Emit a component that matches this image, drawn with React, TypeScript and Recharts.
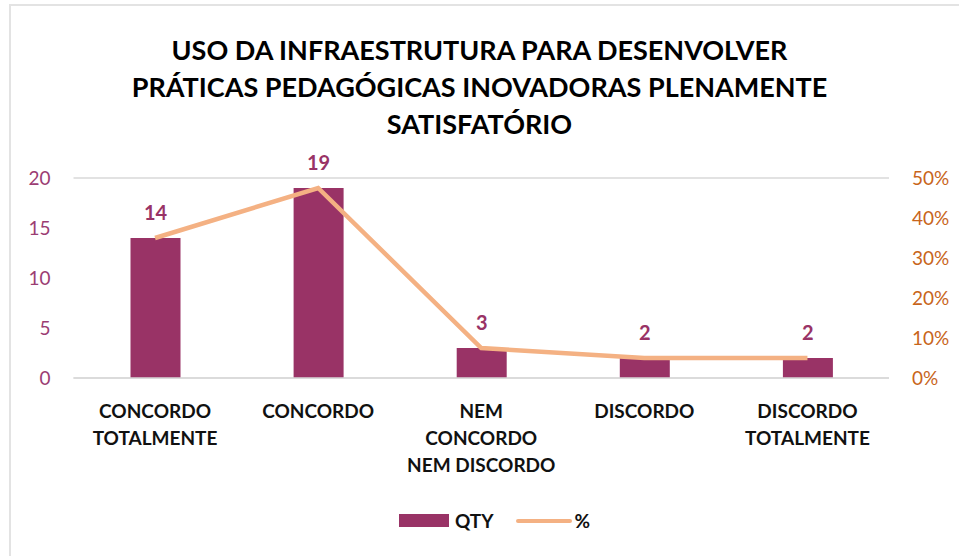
import React from "react";
import {
  ComposedChart,
  Bar,
  Line,
  XAxis,
  YAxis,
  CartesianGrid,
  LabelList,
} from "recharts";

const categories = ["CONCORDO TOTALMENTE", "CONCORDO", "NEM CONCORDO NEM DISCORDO", "DISCORDO", "DISCORDO TOTALMENTE"];
const qty = [14, 19, 3, 2, 2];
const pct = [35, 47.5, 7.5, 5, 5];
const qtyTicks = [0, 5, 10, 15, 20];
const pctTicks = [0, 10, 20, 30, 40, 50];
const titleLines = [
  "USO DA INFRAESTRUTURA PARA DESENVOLVER",
  "PRÁTICAS PEDAGÓGICAS INOVADORAS PLENAMENTE",
  "SATISFATÓRIO",
];

// how each category label wraps under the axis
const tickLines: Record<string, string[]> = {
  "CONCORDO TOTALMENTE": ["CONCORDO", "TOTALMENTE"],
  CONCORDO: ["CONCORDO"],
  "NEM CONCORDO NEM DISCORDO": ["NEM", "CONCORDO", "NEM DISCORDO"],
  DISCORDO: ["DISCORDO"],
  "DISCORDO TOTALMENTE": ["DISCORDO", "TOTALMENTE"],
};

const data = categories.map((name, i) => ({ name, qty: qty[i], pct: pct[i] }));

const FONT = "Lato, 'Open Sans', sans-serif";
const BAR = "#993366";
const LINE = "#F4B183";

const CategoryTick = (props: any) => {
  const { x, y, payload } = props;
  const lines = tickLines[payload.value] ?? [payload.value];
  return (
    <g transform={`translate(${x},${y})`}>
      <text textAnchor="middle" fontFamily={FONT} fontWeight={700} fontSize={19} fill="#111">
        {lines.map((l, i) => (
          <tspan key={i} x={0} y={32 + i * 27}>
            {l}
          </tspan>
        ))}
      </text>
    </g>
  );
};

export default function App() {
  return (
    <div style={{ position: "absolute", left: 0, top: 0, width: 959, height: 556, background: "#fff" }}>
      <div
        style={{
          position: "absolute",
          left: 9,
          top: 4,
          width: 950,
          height: 552,
          borderLeft: "2px solid #e3e3e3",
          borderTop: "2px solid #e3e3e3",
        }}
      />
      <div
        style={{
          position: "absolute",
          left: 0,
          top: 31,
          width: 959,
          textAlign: "center",
          fontFamily: FONT,
          fontWeight: 700,
          fontSize: 27,
          lineHeight: "37px",
          color: "#000",
        }}
      >
        {titleLines.map((t) => (
          <div key={t}>{t}</div>
        ))}
      </div>
      <div style={{ position: "absolute", left: 0, top: 0 }}>
        <ComposedChart
          width={959}
          height={556}
          data={data}
          margin={{ top: 178, right: 10, bottom: 78, left: 13.5 }}
          barCategoryGap={0}
        >
          <CartesianGrid vertical={false} stroke="#d9d9d9" strokeWidth={1.5} />
          <XAxis
            dataKey="name"
            axisLine={{ stroke: "#d9d9d9", strokeWidth: 1.5 }}
            tickLine={false}
            height={100}
            interval={0}
            tick={<CategoryTick />}
          />
          <YAxis
            yAxisId="left"
            domain={[0, 20]}
            ticks={qtyTicks}
            width={60}
            axisLine={false}
            tickLine={false}
            tickSize={6}
            tickMargin={17}
            tick={{ fill: "#9b3d73", fontSize: 19, fontFamily: FONT }}
          />
          <YAxis
            yAxisId="right"
            orientation="right"
            domain={[0, 50]}
            ticks={pctTicks}
            width={60}
            axisLine={false}
            tickLine={false}
            tickSize={6}
            tickMargin={17}
            tickFormatter={(v) => `${v}%`}
            tick={{ fill: "#c8651b", fontSize: 19, fontFamily: FONT }}
          />
          <Bar yAxisId="left" dataKey="qty" name="QTY" fill={BAR} barSize={50} isAnimationActive={false}>
            <LabelList
              dataKey="qty"
              position="top"
              offset={18}
              fill={BAR}
              fontSize={20}
              fontWeight={700}
              fontFamily={FONT}
            />
          </Bar>
          <Line
            yAxisId="right"
            dataKey="pct"
            name="%"
            stroke={LINE}
            strokeWidth={4.5}
            dot={false}
            activeDot={false}
            isAnimationActive={false}
          />
        </ComposedChart>
      </div>
      <div
        style={{
          position: "absolute",
          left: 15,
          top: 509,
          width: 959,
          display: "flex",
          justifyContent: "center",
          alignItems: "center",
          fontFamily: FONT,
          fontWeight: 700,
          fontSize: 19,
          color: "#111",
        }}
      >
        <span style={{ display: "inline-block", width: 50, height: 13, background: BAR, marginRight: 6 }} />
        <span style={{ marginRight: 22 }}>QTY</span>
        <span style={{ display: "inline-block", width: 56, height: 4, background: LINE, borderRadius: 2, marginRight: 3 }} />
        <span>%</span>
      </div>
    </div>
  );
}
